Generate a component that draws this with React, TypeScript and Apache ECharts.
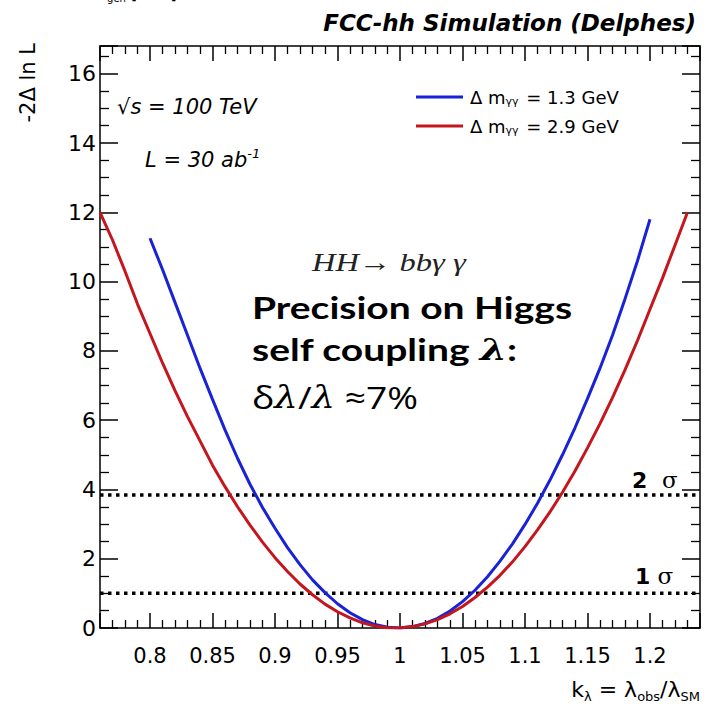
import React, { useEffect, useRef } from 'react';
import * as echarts from 'echarts';

// k_lambda values and -2 Delta lnL
const kBlue = [0.80, 0.81, 0.82, 0.83, 0.84, 0.85, 0.86, 0.87, 0.88, 0.89, 0.90, 0.91, 0.92, 0.93, 0.94, 0.95, 0.96, 0.97, 0.98, 0.99, 1.00,
  1.01, 1.02, 1.03, 1.04, 1.05, 1.06, 1.07, 1.08, 1.09, 1.10, 1.11, 1.12, 1.13, 1.14, 1.15, 1.16, 1.17, 1.18, 1.19, 1.20];
const nllBlue = [11.25, 10.35, 9.4, 8.45, 7.5, 6.6, 5.72, 4.9, 4.15, 3.48, 2.88, 2.32, 1.83, 1.39, 1.02, 0.7, 0.44, 0.24, 0.1, 0.02, 0.0,
  0.04, 0.13, 0.28, 0.49, 0.76, 1.09, 1.48, 1.93, 2.43, 2.99, 3.6, 4.27, 5.0, 5.78, 6.62, 7.5, 8.45, 9.5, 10.6, 11.8];

const kRed = [0.76, 0.77, 0.78, 0.79, 0.80, 0.81, 0.82, 0.83, 0.84, 0.85, 0.86, 0.87, 0.88, 0.89, 0.90, 0.91, 0.92, 0.93, 0.94, 0.95, 0.96, 0.97, 0.98, 0.99, 1.00,
  1.01, 1.02, 1.03, 1.04, 1.05, 1.06, 1.07, 1.08, 1.09, 1.10, 1.11, 1.12, 1.13, 1.14, 1.15, 1.16, 1.17, 1.18, 1.19, 1.20, 1.21, 1.22, 1.23];
const nllRed = [12.0, 11.2, 10.3, 9.35, 8.5, 7.65, 6.85, 6.1, 5.4, 4.7, 4.08, 3.5, 2.97, 2.48, 2.03, 1.63, 1.27, 0.96, 0.69, 0.47, 0.29, 0.15, 0.06, 0.01, 0.0,
  0.04, 0.12, 0.24, 0.41, 0.62, 0.88, 1.18, 1.52, 1.91, 2.35, 2.83, 3.35, 3.92, 4.53, 5.2, 5.9, 6.65, 7.45, 8.3, 9.2, 10.1, 11.05, 12.0];

const seriesNames = ['Δ m_γγ = 1.3 GeV', 'Δ m_γγ = 2.9 GeV'];
const legendRich = ['{a|Δ m}{s|γγ}{a| = 1.3 GeV}', '{a|Δ m}{s|γγ}{a| = 2.9 GeV}'];

const sigmaLevels = [1, 3.84];
const sigmaDigits = ['1', '2'];

const xMin = 0.76;
const xMax = 1.24;
const yMin = 0;
const yMax = 16.8;

const ROOT_FONT = '"DejaVu Sans", "Liberation Sans", sans-serif';
const SLIDE_FONT = 'Lato, "Open Sans", sans-serif';
const BLUE = '#1a22d6';
const RED = '#c4161c';

function App() {
  const ref = useRef<HTMLDivElement>(null);
  useEffect(() => {
    if (!ref.current) return;
    const chart = echarts.init(ref.current, null, { renderer: 'svg' });

    const xAxisBase = (pos: 'bottom' | 'top', labels: boolean) => ({
      type: 'value',
      position: pos,
      min: xMin,
      max: xMax,
      splitNumber: 10,
      minInterval: 0.05,
      maxInterval: 0.05,
      axisLine: { show: true, onZero: false, lineStyle: { color: '#000', width: 1.5 } },
      axisTick: { show: true, inside: true, length: 15, lineStyle: { color: '#000', width: 1.5 } },
      minorTick: { show: true, splitNumber: 5, length: 8, lineStyle: { color: '#000', width: 1.3 } },
      axisLabel: {
        show: labels,
        showMinLabel: false,
        showMaxLabel: false,
        margin: 17,
        color: '#000',
        fontSize: 21,
        fontFamily: ROOT_FONT,
        formatter: (v: number) => (Math.abs(v * 20 - Math.round(v * 20)) < 1e-6 ? String(Math.round(v * 100) / 100) : ''),
      },
      splitLine: { show: false },
    });
    const yAxisBase = (pos: 'left' | 'right', labels: boolean) => ({
      type: 'value',
      position: pos,
      min: yMin,
      max: yMax,
      splitNumber: 8,
      minInterval: 2,
      maxInterval: 2,
      axisLine: { show: true, onZero: false, lineStyle: { color: '#000', width: 1.5 } },
      axisTick: { show: true, inside: true, length: 18, lineStyle: { color: '#000', width: 1.5 } },
      minorTick: { show: true, splitNumber: 4, length: 9, lineStyle: { color: '#000', width: 1.3 } },
      axisLabel: {
        show: labels,
        showMinLabel: true,
        showMaxLabel: false,
        margin: 4,
        color: '#000',
        fontSize: 22,
        fontFamily: ROOT_FONT,
        formatter: (v: number) => (Math.abs(v / 2 - Math.round(v / 2)) < 1e-6 ? String(v) : ''),
      },
      splitLine: { show: false },
    });

    const sigmaSeries = sigmaLevels.map((lvl, i) => ({
      type: 'line',
      name: 'sigma' + i,
      data: [[xMin, lvl], [xMax, lvl]],
      symbol: 'none',
      silent: true,
      lineStyle: { color: '#000', width: 3.5, type: [3.5, 4.5] },
      z: 1,
    }));

    chart.setOption({
      animation: false,
      grid: { left: 100, right: 18, top: 46, bottom: 78 },
      xAxis: [xAxisBase('bottom', true), xAxisBase('top', false)],
      yAxis: [yAxisBase('left', true), yAxisBase('right', false)],
      legend: {
        data: seriesNames,
        orient: 'vertical',
        left: 411,
        top: 83,
        itemWidth: 47,
        itemHeight: 3,
        itemGap: 10,
        icon: 'rect',
        formatter: (name: string) => legendRich[seriesNames.indexOf(name)],
        textStyle: {
          color: '#000',
          rich: {
            a: { fontSize: 18, fontFamily: ROOT_FONT, color: '#000', lineHeight: 20, padding: [0, 0, 0, 2] },
            s: { fontSize: 11, fontFamily: ROOT_FONT, color: '#000', lineHeight: 9, verticalAlign: 'bottom' },
          },
        },
      },
      series: [
        ...sigmaSeries,
        {
          type: 'line',
          name: seriesNames[0],
          data: kBlue.map((k, i) => [k, nllBlue[i]]),
          symbol: 'none',
          color: BLUE,
          lineStyle: { color: BLUE, width: 3 },
          z: 3,
        },
        {
          type: 'line',
          name: seriesNames[1],
          data: kRed.map((k, i) => [k, nllRed[i]]),
          symbol: 'none',
          color: RED,
          lineStyle: { color: RED, width: 3 },
          z: 4,
        },
      ],
      graphic: [
        {
          type: 'text', x: 97, y: -7,
          style: {
            text: '{a|E}{s|gen}{a| [GeV]}',
            verticalAlign: 'middle',
            rich: {
              a: { fontSize: 16, fontFamily: ROOT_FONT, fill: '#000', lineHeight: 20 },
              s: { fontSize: 10, fontFamily: ROOT_FONT, fill: '#000', lineHeight: 8, verticalAlign: 'bottom' },
            },
          },
        },
        {
          type: 'text', x: 696, y: 23,
          style: {
            text: 'FCC-hh Simulation (Delphes)',
            font: 'italic bold 23px ' + ROOT_FONT,
            fill: '#000', align: 'right', verticalAlign: 'middle',
          },
        },
        {
          type: 'text', x: 28, y: 43, rotation: Math.PI / 2,
          style: {
            text: '-2Δ ln L',
            font: '21px ' + ROOT_FONT,
            fill: '#000', align: 'right', verticalAlign: 'middle',
          },
        },
        {
          type: 'text', x: 700, y: 689,
          style: {
            text: '{a|k}{s|λ}{a| = λ}{s|obs}{a|/λ}{s|SM}',
            align: 'right', verticalAlign: 'middle',
            rich: {
              a: { fontSize: 22, fontFamily: ROOT_FONT, fill: '#000', lineHeight: 28 },
              s: { fontSize: 13, fontFamily: ROOT_FONT, fill: '#000', lineHeight: 10, verticalAlign: 'bottom' },
            },
          },
        },
        {
          type: 'text', x: 117, y: 107,
          style: {
            text: '√s = 100 TeV',
            font: 'italic 21px ' + ROOT_FONT,
            fill: '#000', verticalAlign: 'middle',
          },
        },
        {
          type: 'text', x: 145, y: 160,
          style: {
            text: '{a|L = 30 ab}{p|-1}',
            verticalAlign: 'middle',
            rich: {
              a: { fontSize: 21, fontStyle: 'italic', fontFamily: ROOT_FONT, fill: '#000', lineHeight: 26 },
              p: { fontSize: 13, fontStyle: 'italic', fontFamily: ROOT_FONT, fill: '#000', lineHeight: 12, verticalAlign: 'top' },
            },
          },
        },
        {
          type: 'text', x: 312, y: 262, scaleX: 1.25,
          style: {
            text: '{i|HH}{r|→ }{i|bbγ γ}',
            verticalAlign: 'middle',
            rich: {
              i: { fontSize: 26, fontStyle: 'italic', fontFamily: '"Liberation Serif", "DejaVu Serif", serif', fill: '#222' },
              r: { fontSize: 26, fontFamily: '"Liberation Serif", "DejaVu Serif", serif', fill: '#222' },
            },
          },
        },
        {
          type: 'text', x: 252, y: 307, scaleX: 1.3,
          style: {
            text: 'Precision on Higgs',
            font: 'bold 30px ' + SLIDE_FONT,
            fill: '#000', verticalAlign: 'middle',
          },
        },
        {
          type: 'text', x: 252, y: 349, scaleX: 1.3,
          style: {
            text: '{b|self coupling }{l|λ}{b|:}',
            verticalAlign: 'middle',
            rich: {
              b: { fontSize: 30, fontWeight: 'bold', fontFamily: SLIDE_FONT, fill: '#000' },
              l: { fontSize: 30, fontWeight: 'bold', fontStyle: 'italic', fontFamily: '"DejaVu Serif", serif', fill: '#000' },
            },
          },
        },
        {
          type: 'text', x: 252, y: 397, scaleX: 1.2,
          style: {
            text: '{r|δ}{l|λ}{r|/}{l|λ}{r| ≈7%}',
            verticalAlign: 'middle',
            rich: {
              r: { fontSize: 31, fontFamily: '"Open Sans", Lato, sans-serif', fill: '#000' },
              l: { fontSize: 31, fontStyle: 'italic', fontFamily: '"DejaVu Serif", serif', fill: '#000' },
            },
          },
        },
        ...sigmaLevels.map((lvl, i) => ({
          type: 'text',
          x: i === 0 ? 635 : 632,
          y: i === 0 ? 576 : 480,
          style: {
            text: '{b|' + sigmaDigits[i] + '}{s|' + (i === 0 ? ' σ' : '  σ') + '}',
            verticalAlign: 'middle',
            rich: {
              b: { fontSize: 22, fontWeight: 'bold', fontFamily: ROOT_FONT, fill: '#000' },
              s: { fontSize: 23, fontFamily: '"DejaVu Serif", serif', fill: '#000' },
            },
          },
        })),
      ],
    });
    return () => chart.dispose();
  }, []);
  return <div ref={ref} style={{ width: 718, height: 706, position: 'absolute', left: 0, top: 0 }} />;
}

export default App;
